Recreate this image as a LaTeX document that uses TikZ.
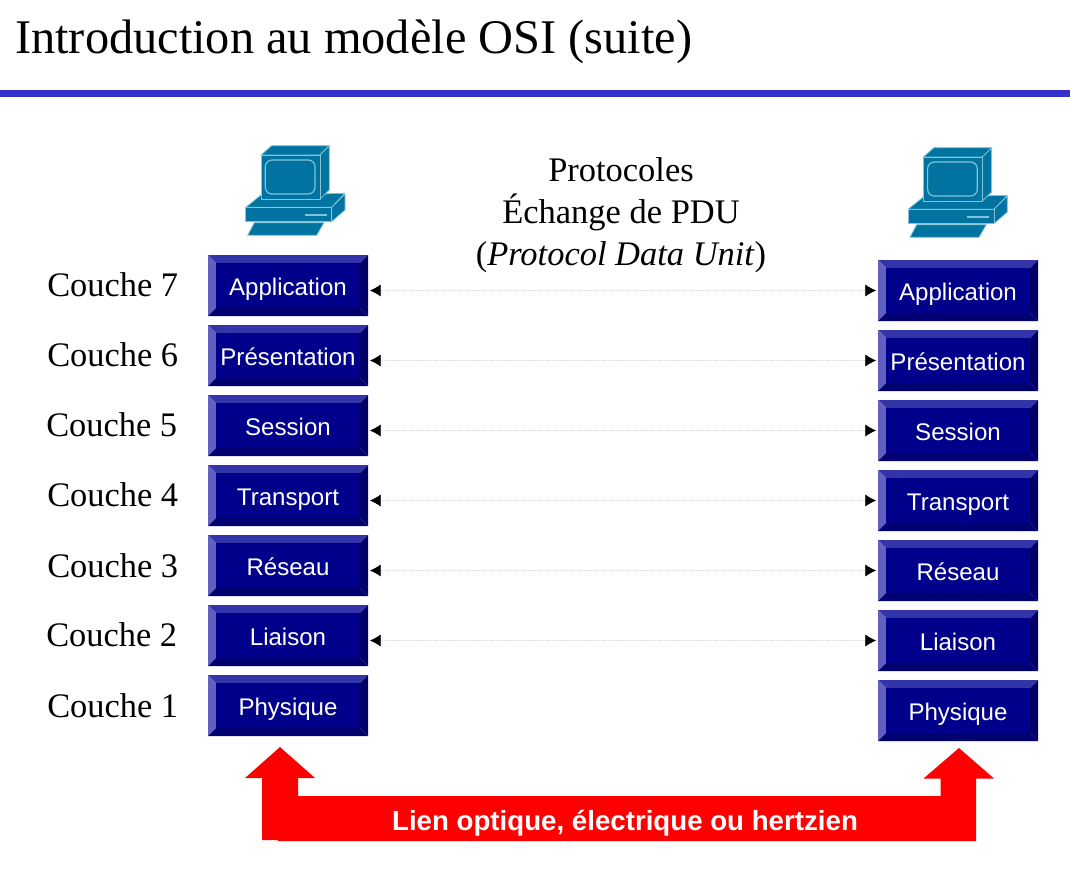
\documentclass[tikz,border=0pt]{standalone}
\usepackage{fontspec}
\setmainfont{Liberation Serif}
\newfontfamily\arialf{Liberation Sans}
\usetikzlibrary{arrows.meta}
\definecolor{face}{RGB}{0,0,139}
\definecolor{btop}{RGB}{51,51,170}
\definecolor{bleft}{RGB}{96,96,192}
\definecolor{bright}{RGB}{0,0,102}
\definecolor{bbot}{RGB}{0,0,112}
\definecolor{rulec}{RGB}{51,51,204}
\definecolor{pc}{RGB}{0,115,160}
\definecolor{pcl}{RGB}{130,195,220}
\tikzset{
  layerbox/.style={minimum width=120pt,minimum height=45.5pt,inner sep=0pt,outer sep=0pt,text=white,text height=14.8pt,text depth=0pt,font=\arialf\fontsize{18.05}{20}\selectfont},
  couche/.style={anchor=base west,inner sep=0pt,font=\fontsize{25.8}{28}\selectfont},
  peer/.style={draw=black!15,line width=0.4pt,densely dotted,{Latex[black,length=8pt,width=9pt]}-{Latex[black,length=8pt,width=9pt]},shorten <=1.5pt,shorten >=1.5pt},
  pcpart/.style={fill=pc,draw=pcl,line width=0.6pt,line join=round},
}
\newcommand{\layerbox}[4]{%
  \begin{scope}[shift={(#2,#3)}]
    \fill[btop] (0,0) -- (160,0) -- (152,8) -- (8,8) -- cycle;
    \fill[bleft] (0,0) -- (8,8) -- (8,53) -- (0,61) -- cycle;
    \fill[bright] (160,0) -- (160,61) -- (152,53) -- (152,8) -- cycle;
    \fill[bbot] (0,61) -- (8,53) -- (152,53) -- (160,61) -- cycle;
    \fill[face] (8,8) rectangle (152,53);
  \end{scope}
  \node[layerbox] (#1) at (#2+80,#3+30.5) {#4};}
\newcommand{\computer}[2]{%
  \begin{scope}[shift={(#1,#2)},x=0.25pt,y=-0.25pt]
    \draw[pcpart] (183,195) -- (435,190) -- (395,232) -- (137,232) -- cycle;
    \draw[pcpart] (395,232) -- (435,192) -- (435,240) -- (395,275) -- cycle;
    \draw[pcpart] (137,232) -- (395,232) -- (395,275) -- (137,275) -- cycle;
    \draw[pcpart] (163,278) -- (372,278) -- (350,316) -- (143,316) -- cycle;
    \draw[pcpart] (183,75) -- (215,47) -- (388,47) -- (360,75) -- cycle;
    \draw[pcpart] (360,75) -- (388,47) -- (388,180) -- (360,207) -- cycle;
    \draw[pcpart] (183,75) rectangle (360,207);
    \draw[pcpart,line width=0.9pt,rounded corners=5pt] (196,90) rectangle (345,192);
    \fill[pcl] (315,252) rectangle (380,258);
  \end{scope}}
\begin{document}
\begin{tikzpicture}[x=0.75pt,y=-0.75pt]
\useasboundingbox (0,0) rectangle (1070,869);
\fill[white] (0,0) rectangle (1070,869);
\node[anchor=base west,inner sep=0pt,font=\fontsize{36.27}{40}\selectfont] (title) at (15,53) {Introduction au modèle OSI (suite)};
\fill[rulec] (0,90) rectangle (1070,97);
\computer{200}{130}
\computer{862.3}{132}
\node[align=center,inner sep=0pt,font=\fontsize{25.85}{31.5}\selectfont] (proto) at (621,215) {Protocoles\\Échange de PDU\\(\textit{Protocol Data Unit})};
\foreach \n/\t/\i in {7/Application/0,6/Présentation/1,5/Session/2,4/Transport/3,3/Réseau/4,2/Liaison/5,1/Physique/6}{
  \layerbox{l\n}{208}{255+70*\i}{\t}
  \layerbox{r\n}{878}{260+70*\i}{\t}
}
\node[couche] (c7) at (47,296) {Couche 7};
\node[couche] (c6) at (47,366) {Couche 6};
\node[couche] (c5) at (46,436) {Couche 5};
\node[couche] (c4) at (47,506) {Couche 4};
\node[couche] (c3) at (47,577) {Couche 3};
\node[couche] (c2) at (46,646) {Couche 2};
\node[couche] (c1) at (47,717) {Couche 1};
\foreach \n in {7,6,5,4,3,2}{
  \draw[peer] (l\n.east |- r\n.west) -- (r\n.west);
}
\fill[red] (280,747) -- (315,778) -- (298,778) -- (298,796) -- (940.5,796) -- (940.5,778.5) -- (923.5,778.5) -- (959,748) -- (994,778.5) -- (976,778.5) -- (976,841) -- (278,841) -- (278,840) -- (262,840) -- (262,778) -- (245,778) -- cycle;
\node[text=white,inner sep=0pt,font=\arialf\bfseries\fontsize{20.75}{22}\selectfont] (lien) at (625,823) {Lien optique, électrique ou hertzien};
\end{tikzpicture}
\end{document}
